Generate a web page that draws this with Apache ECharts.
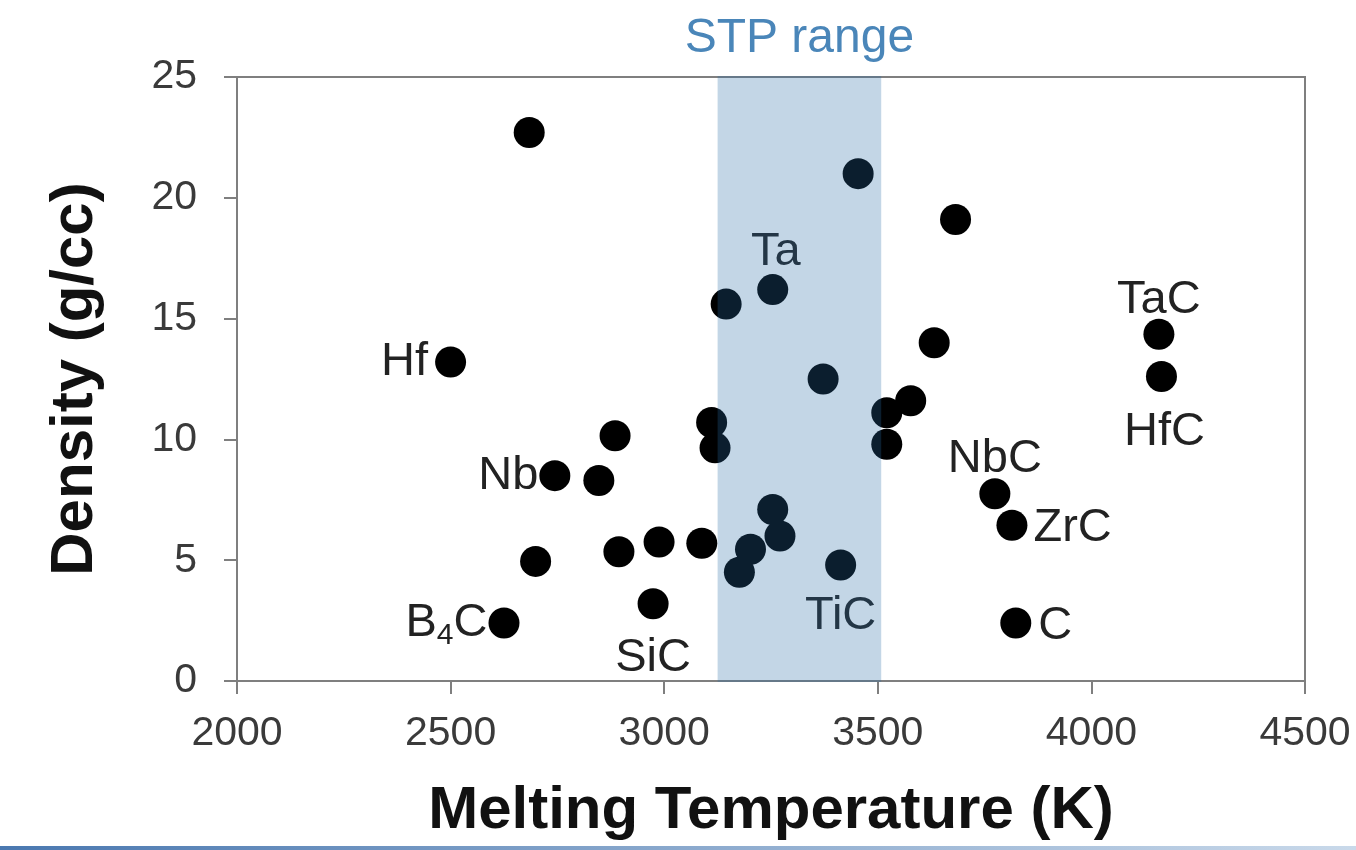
<!DOCTYPE html>
<html>
<head>
<meta charset="utf-8">
<script src="https://cdn.jsdelivr.net/npm/echarts@6/dist/echarts.min.js"></script>
<style>
  html, body { margin: 0; padding: 0; background: #fff; }
  #chart { width: 1356px; height: 850px; }
</style>
</head>
<body>
<div id="chart"></div>
<script>
// melting temperature (K) and density (g/cc)
const meltTemp = [
  2684, 3454, 3682, 3254, 3145, 4158, 3632, 2500, 3372, 4164, 3577,
  3521, 3111, 2885, 3119, 3521, 2744, 2847, 3774, 3254, 3814, 3271,
  2988, 3088, 2894, 3202, 3176, 2699, 3413, 2974, 2625, 3823
];
const density = [
  22.7, 21.0, 19.1, 16.2, 15.6, 14.35, 14.0, 13.2, 12.5, 12.6, 11.6,
  11.1, 10.7, 10.15, 9.65, 9.8, 8.5, 8.3, 7.75, 7.1, 6.45, 6.0,
  5.75, 5.7, 5.35, 5.45, 4.5, 4.95, 4.8, 3.2, 2.4, 2.4
];
const names = [
  '', '', '', 'Ta', '', 'TaC', '', 'Hf', '', 'HfC', '',
  '', '', '', '', '', 'Nb', '', 'NbC', '', 'ZrC', '',
  '', '', '', '', '', '', 'TiC', 'SiC', 'B4C', 'C'
];
const stpRange = [3125, 3508];
const xTicks = [2000, 2500, 3000, 3500, 4000, 4500];
const yTicks = [0, 5, 10, 15, 20, 25];

// where each label sits relative to its point
const labelPlace = {
  Ta:  { position: 'top', distance: 4, offset: [3, 5] },
  TaC: { position: 'top', distance: 3, offset: [0, 8] },
  Hf:  { position: 'left', distance: 7, offset: [0, 0] },
  HfC: { position: 'bottom', distance: 14, offset: [3, 2] },
  Nb:  { position: 'left', distance: 1, offset: [0, 0] },
  NbC: { position: 'top', distance: 2, offset: [0, 6] },
  ZrC: { position: 'right', distance: 6, offset: [0, 3] },
  TiC: { position: 'bottom', distance: 10, offset: [0, 2] },
  SiC: { position: 'bottom', distance: 14, offset: [0, 1] },
  B4C: { position: 'left', distance: 1, offset: [0, 0] },
  C:   { position: 'right', distance: 7, offset: [0, 3] }
};

const FONT = '"Liberation Sans", Arial, sans-serif';

const points = meltTemp.map((t, i) => {
  const item = { value: [t, density[i]], name: names[i] };
  const place = labelPlace[names[i]];
  if (place) {
    item.label = {
      show: true,
      position: place.position,
      distance: place.distance,
      offset: place.offset,
      formatter: names[i] === 'B4C' ? '{n|B}{s|4}{n|C}' : '{n|' + names[i] + '}'
    };
  }
  return item;
});

const chart = echarts.init(document.getElementById('chart'));

chart.setOption({
  animation: false,
  backgroundColor: '#ffffff',
  grid: {
    left: 237, right: 51, top: 77, bottom: 169,
    show: true,
    borderColor: '#7f7f7f',
    borderWidth: 2
  },
  xAxis: {
    type: 'value',
    min: xTicks[0],
    max: xTicks[xTicks.length - 1],
    interval: 500,
    name: 'Melting Temperature (K)',
    nameLocation: 'middle',
    nameGap: 100,
    nameTextStyle: { fontFamily: FONT, fontSize: 60, fontWeight: 'bold', color: '#111' },
    axisLine: { lineStyle: { color: '#7f7f7f', width: 2 } },
    axisTick: { inside: false, length: 13, lineStyle: { color: '#7f7f7f', width: 2 } },
    axisLabel: { fontFamily: FONT, fontSize: 41, color: '#3a3a3a', margin: 32, formatter: v => String(v) },
    splitLine: { show: false }
  },
  yAxis: {
    type: 'value',
    min: yTicks[0],
    max: yTicks[yTicks.length - 1],
    interval: 5,
    name: 'Density (g/cc)',
    nameLocation: 'middle',
    nameGap: 132,
    nameTextStyle: { fontFamily: FONT, fontSize: 60, fontWeight: 'bold', color: '#111' },
    axisLine: { show: true, lineStyle: { color: '#7f7f7f', width: 2 } },
    axisTick: { show: true, inside: false, length: 13, lineStyle: { color: '#7f7f7f', width: 2 } },
    axisLabel: { fontFamily: FONT, fontSize: 41, color: '#3a3a3a', margin: 40 },
    splitLine: { show: false }
  },
  graphic: [
    {
      type: 'rect',
      left: 0, top: 846,
      shape: { width: 1356, height: 4 },
      style: {
        fill: new echarts.graphic.LinearGradient(0, 0, 1, 0, [
          { offset: 0, color: '#4a78b0' },
          { offset: 1, color: '#c9d9ea' }
        ])
      },
      z: 10
    }
  ],
  series: [
    {
      type: 'scatter',
      z: 2,
      symbol: 'circle',
      symbolSize: 31,
      itemStyle: { color: '#000000', opacity: 1 },
      label: {
        color: '#222',
        fontFamily: FONT,
        rich: {
          n: { fontFamily: FONT, fontSize: 47, color: '#222' },
          s: { fontFamily: FONT, fontSize: 30, color: '#222', padding: [26, 0, 0, 0] }
        }
      },
      emphasis: { disabled: true },
      data: points
    },
    {
      // translucent STP band drawn over the points and labels
      type: 'custom',
      z: 5,
      silent: true,
      data: [stpRange],
      renderItem: (params, api) => {
        const p0 = api.coord([api.value(0), yTicks[yTicks.length - 1]]);
        const p1 = api.coord([api.value(1), yTicks[0]]);
        return {
          type: 'group',
          children: [
            {
              type: 'rect',
              shape: { x: p0[0], y: p0[1] - 1, width: p1[0] - p0[0], height: p1[1] - p0[1] + 2 },
              style: { fill: 'rgba(39,106,167,0.28)' }
            },
            {
              type: 'text',
              x: (p0[0] + p1[0]) / 2,
              y: p0[1] - 14,
              style: {
                text: 'STP range',
                fontFamily: FONT,
                fontSize: 48,
                fill: '#4a86b9',
                align: 'center',
                verticalAlign: 'bottom'
              }
            }
          ]
        };
      }
    }
  ]
});
</script>
</body>
</html>
